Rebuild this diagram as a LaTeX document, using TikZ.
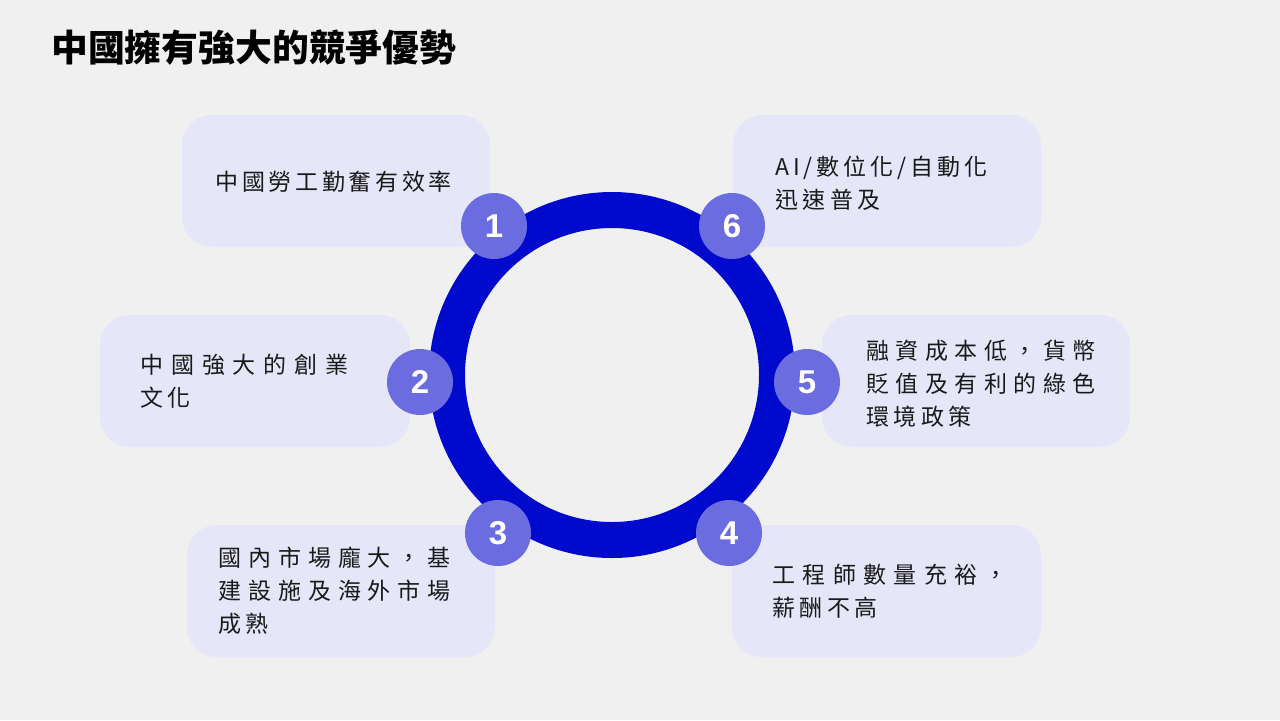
\documentclass[tikz,border=0pt]{standalone}
\usepackage{fontspec}
\setmainfont{Noto Sans CJK TC}
\newfontfamily\numfont{Liberation Sans}
\definecolor{bgc}{HTML}{F0F0F0}
\definecolor{boxc}{HTML}{E5E6F8}
\definecolor{ringc}{HTML}{000ACC}
\definecolor{numc}{HTML}{6A6CE0}
\definecolor{txtc}{HTML}{1A1A1A}
\tikzset{
  card/.style={fill=boxc, rounded corners=15pt},
  cardtext/.style={anchor=west, inner sep=0pt, align=left, text=txtc,
    font=\fontsize{11.5}{16.5}\selectfont\addfontfeature{LetterSpace=#1}},
  badge/.style={circle, fill=numc, minimum size=33pt, inner sep=0pt, text=white,
    font=\numfont\bfseries\fontsize{16.5}{18}\selectfont},
  ringstyle/.style={circle, draw=ringc, line width=18pt, minimum size=165pt, inner sep=0pt}
}
\newcommand{\lastln}[1]{{\addfontfeature{LetterSpace=19}#1}}
\begin{document}
\begin{tikzpicture}[x=0.5pt,y=-0.5pt]
\fill[bgc] (0,0) rectangle (1280,720);
\useasboundingbox (0,0) rectangle (1280,720);
\node[anchor=west, inner sep=0pt, font=\bfseries\fontsize{18.4}{20}\selectfont] (title) at (51,48) {中國擁有強大的競爭優勢};
% cards
\fill[card] (182,115) rectangle (490,247);
\fill[card] (733,115) rectangle (1041,247);
\fill[card] (100,315) rectangle (410,447);
\fill[card] (822,315) rectangle (1130,447);
\fill[card] (187,525) rectangle (495,657);
\fill[card] (732,525) rectangle (1041,657);
% texts
\node[cardtext=16] (t1) at (215,182) {中國勞工勤奮有效率};
\node[cardtext=17] (t6) at (775,183.5) {AI/數位化/自動化\\\lastln{迅速普及}};
\node[cardtext=34] (t2) at (140,381) {中國強大的創業\\\lastln{文化}};
\node[cardtext=28] (t5) at (866,383.5) {融資成本低，貨幣\\貶值及有利的綠色\\\lastln{環境政策}};
\node[cardtext=30] (t3) at (218,590.5) {國內市場龐大，基\\建設施及海外市場\\\lastln{成熟}};
\node[cardtext=32] (t4) at (772,591) {工程師數量充裕，\\\lastln{薪酬不高}};
% ring
\node[ringstyle] (ring) at (612,375) {};
% badges
\node[badge] (n1) at (494,226) {1};
\node[badge] (n6) at (732,226) {6};
\node[badge] (n2) at (420,382) {2};
\node[badge] (n5) at (807,382) {5};
\node[badge] (n3) at (498,533) {3};
\node[badge] (n4) at (729,533) {4};
\end{tikzpicture}
\end{document}
